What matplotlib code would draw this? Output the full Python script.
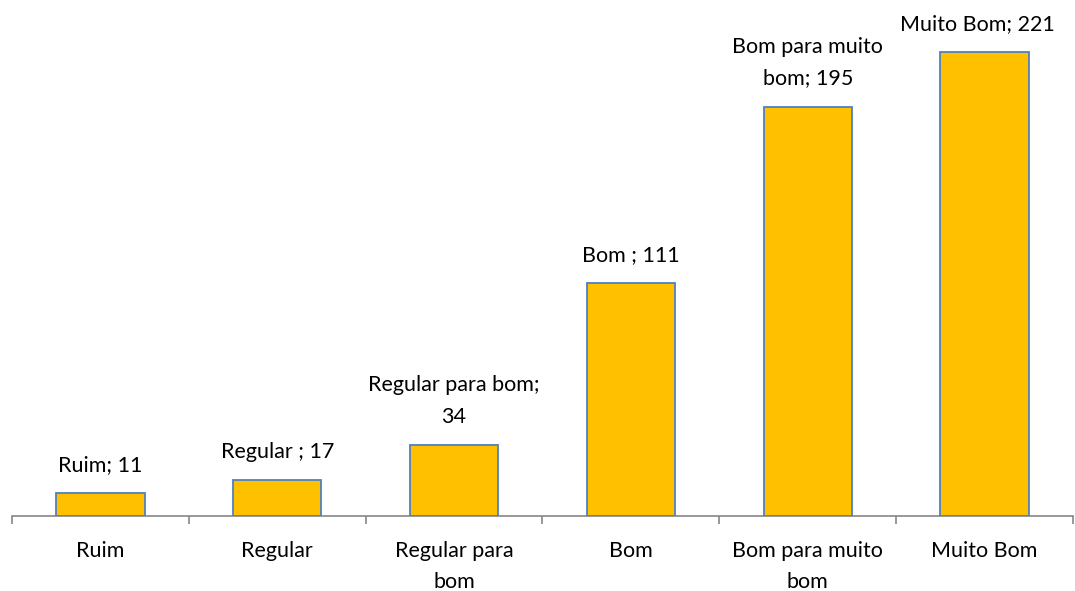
import matplotlib
matplotlib.use("Agg")
import matplotlib.pyplot as plt

plt.rcParams["font.family"] = ["Lato", "DejaVu Sans"]

# Data
categorias = ["Ruim", "Regular", "Regular para\nbom", "Bom", "Bom para muito\nbom", "Muito Bom"]
valores = [11, 17, 34, 111, 195, 221]
rotulos = ["Ruim; ", "Regular ; ", "Regular para bom;\n", "Bom ; ", "Bom para muito\nbom; ", "Muito Bom; "]


def main():
    W, H = 1075, 591
    fig = plt.figure(figsize=(W / 100, H / 100), dpi=100)
    # axis line at y=516 px, from x=12 to x=1073
    ax = fig.add_axes([12 / W, (H - 516) / H, (1073 - 12) / W, 516 / H])

    x = list(range(len(categorias)))
    ax.bar(x, valores, width=0.5, color="#FFC000", edgecolor="#4F81BD", linewidth=1.3, zorder=3)

    for xi, v, r in zip(x, valores, rotulos):
        dx = -5 if xi == len(categorias) - 1 else 0
        ax.annotate(f"{r}{v}", (xi, v), xytext=(dx, 13), textcoords="offset points",
                    ha="center", va="bottom", fontsize=15.5, color="#000000",
                    linespacing=1.7)

    ax.set_xlim(-0.5, len(categorias) - 0.5)
    ax.set_ylim(0, 221 * 516 / 464)
    ax.set_xticks([i - 0.5 for i in range(len(categorias) + 1)], minor=False)
    ax.set_xticklabels([""] * (len(categorias) + 1))
    ax.set_xticks(x, categorias, minor=True)
    ax.tick_params(axis="x", which="major", length=6, width=1.2, color="#868686", direction="out")
    ax.tick_params(axis="x", which="minor", length=0, pad=18, labelsize=15.5)
    for lab in ax.get_xticklabels(minor=True):
        lab.set_linespacing(1.7)
    ax.set_yticks([])
    for s in ["top", "right", "left"]:
        ax.spines[s].set_visible(False)
    ax.spines["bottom"].set_color("#868686")
    ax.spines["bottom"].set_linewidth(1.2)

    fig.savefig("out.png", dpi=100, facecolor="white")


if __name__ == "__main__":
    main()
